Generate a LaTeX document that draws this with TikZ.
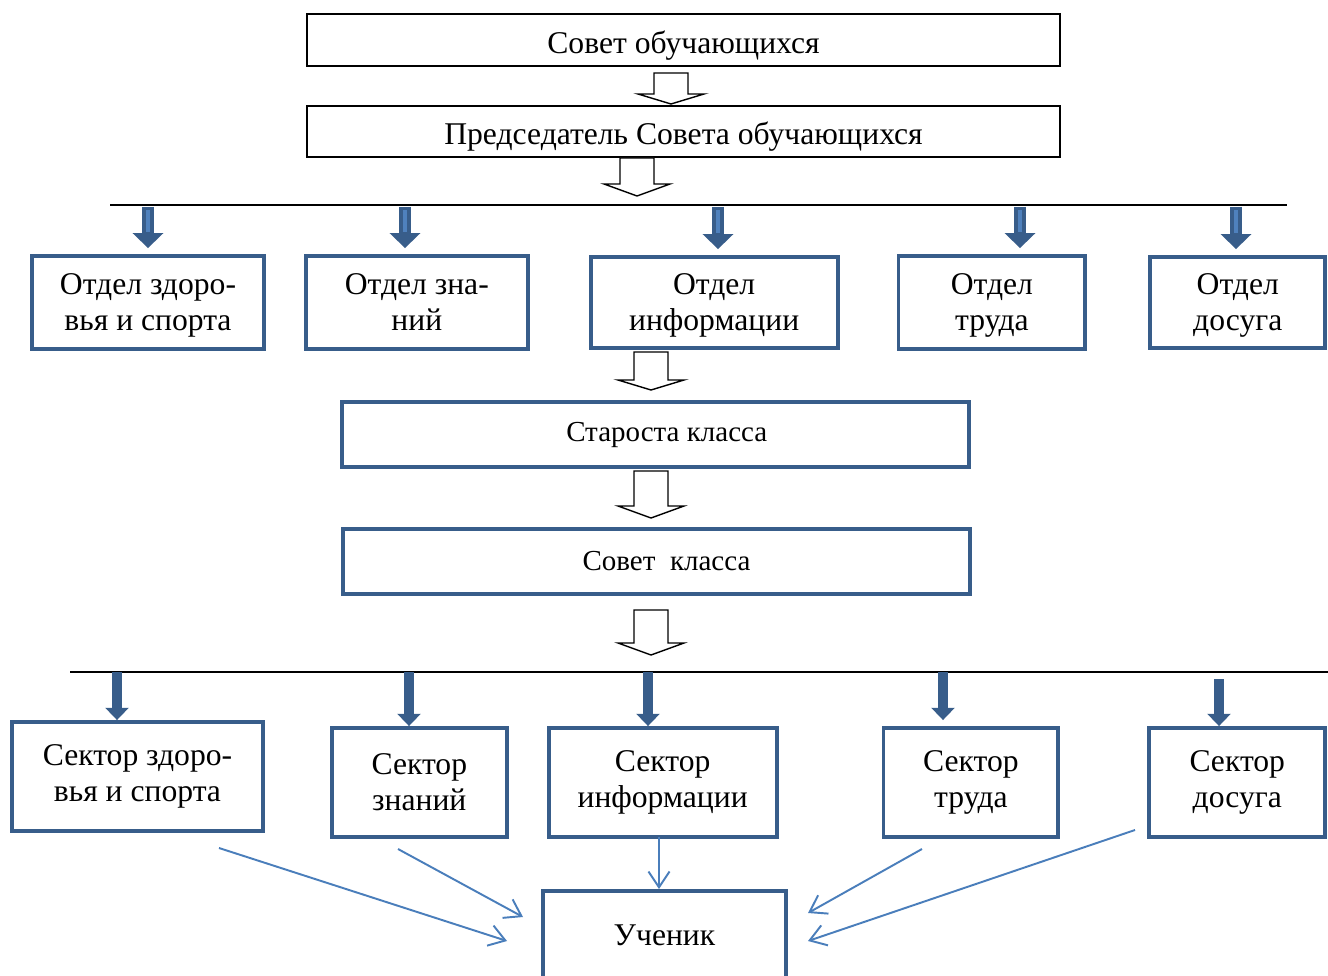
\documentclass[tikz,border=0pt]{standalone}
\usepackage{fontspec}
\setmainfont{Liberation Serif}
\usepackage{tikz}
\usetikzlibrary{arrows.meta,positioning}

\definecolor{boxblue}{RGB}{56,93,138}
\definecolor{fillblue}{RGB}{79,129,189}
\definecolor{lineblue}{RGB}{74,126,187}

\tikzset{
  topbox/.style={draw=black,line width=0.8pt,minimum width=15.06cm,inner sep=2pt,
    text height=19pt,font=\fontsize{18}{20.5}\selectfont},
  unitbox/.style={draw=boxblue,line width=2.2pt,align=center,inner sep=2pt,
    font=\fontsize{18}{20.5}\selectfont},
  deptbox/.style={unitbox,text depth=-11pt},
  classbox/.style={unitbox,minimum width=12.54cm,minimum height=1.3cm,
    font=\fontsize{16.5}{19}\selectfont},
  hollow/.style={draw=black,fill=white,line width=0.8pt,line join=miter},
  bus/.style={draw=black,line width=1pt},
  deptarrow/.style={boxblue,line width=6.5pt,shorten >=0.12cm,
    -{Triangle[width=17pt,length=8.5pt]}},
  deptstripe/.style={fillblue,line width=2.2pt,shorten >=0.45cm,shorten <=0.06cm},
  secarrow/.style={boxblue,line width=5.5pt,-{Triangle[width=13pt,length=7pt]}},
  pupilarrow/.style={lineblue,line width=1.1pt,-{Straight Barb[length=9pt,width=12pt]}}
}

% block arrow: centre x, top, start of head, tip
\newcommand{\hollowdown}[4]{%
  \draw[hollow] ({#1-17},#2) -- ({#1+17},#2) -- ({#1+17},#3) -- ({#1+33},#3)
    -- (#1,#4) -- ({#1-33},#3) -- ({#1-17},#3) -- cycle;}

\begin{document}
\begin{tikzpicture}[x=0.02cm,y=-0.02cm]
  \clip (0,0) rectangle (1328,976);

  % council
  \node[topbox,minimum height=1.04cm] (council) at (683.5,40) {Совет обучающихся};
  \node[topbox,minimum height=1.02cm] (chair)   at (683.5,131.5) {Председатель Совета обучающихся};
  \hollowdown{671}{73}{94}{104}
  \hollowdown{637}{158}{184}{196}

  % departments
  \coordinate (busL) at (110,205);
  \coordinate (busR) at (1287,205);
  \draw[bus] (busL) -- (busR);

  \node[deptbox,minimum width=4.64cm,minimum height=1.86cm] (health) at (148,302.5) {Отдел здоро-\\вья и спорта};
  \node[deptbox,minimum width=4.44cm,minimum height=1.86cm] (knowledge) [right=0.76cm of health]    {Отдел зна-\\ний};
  \node[deptbox,minimum width=4.94cm,minimum height=1.82cm] (info)      [right=1.18cm of knowledge] {Отдел\\информации};
  \node[deptbox,minimum width=3.74cm,minimum height=1.86cm] (labour)    [right=1.14cm of info]      {Отдел\\труда};
  \node[deptbox,minimum width=3.5cm,minimum height=1.82cm]  (leisure)   [right=1.22cm of labour]    {Отдел\\досуга};

  \coordinate (a1) at (148,207);
  \coordinate (a2) at (405,207);
  \coordinate (a3) at (718,207);
  \coordinate (a4) at (1020,207);
  \coordinate (a5) at (1236,207);
  \path[deptarrow]
  (a1) edge (a1 |- health.north)
  (a2) edge (a2 |- knowledge.north)
  (a3) edge (a3 |- info.north)
  (a4) edge (a4 |- labour.north)
  (a5) edge (a5 |- leisure.north);
  \path[deptstripe]
  (a1) edge (a1 |- health.north)
  (a2) edge (a2 |- knowledge.north)
  (a3) edge (a3 |- info.north)
  (a4) edge (a4 |- labour.north)
  (a5) edge (a5 |- leisure.north);

  % class
  \hollowdown{651}{352}{380}{390}
  \node[classbox] (head)  at (655.5,434.5) {\hspace{0.45cm}Староста класса};
  \hollowdown{651}{471}{506}{518}
  \node[classbox] (board) at (656.5,561.5) {\hspace{0.4cm}Совет\ \ класса};
  \hollowdown{651}{610}{643}{655}

  % sectors
  \coordinate (busL2) at (70,672);
  \coordinate (busR2) at (1328,672);
  \draw[bus] (busL2) -- (busR2);

  \node[unitbox,minimum width=5.02cm,minimum height=2.18cm] (shealth) at (137.5,776.5) {Сектор здоро-\\вья и спорта};
  \node[unitbox,minimum width=3.5cm,minimum height=2.18cm]  (sknow)   [right=1.3cm of shealth,yshift=-0.12cm] {Сектор\\знаний};
  \node[unitbox,minimum width=4.56cm,minimum height=2.18cm] (sinfo)   [right=0.76cm of sknow]  {Сектор\\информации};
  \node[unitbox,minimum width=3.5cm,minimum height=2.18cm]  (slabour) [right=2.06cm of sinfo]  {Сектор\\труда};
  \node[unitbox,minimum width=3.52cm,minimum height=2.18cm] (sleisure)[right=1.74cm of slabour]{Сектор\\досуга};

  \coordinate (b1) at (117,672);
  \coordinate (b2) at (409,672);
  \coordinate (b3) at (648,672);
  \coordinate (b4) at (943,672);
  \coordinate (b5) at (1219,679);
  \path[secarrow]
  (b1) edge (b1 |- shealth.north)
  (b2) edge (b2 |- sknow.north)
  (b3) edge (b3 |- sinfo.north)
  (b4) edge ([yshift=0.12cm]b4 |- slabour.north)
  (b5) edge (b5 |- sleisure.north);

  % pupil
  \node[unitbox,minimum width=4.86cm,minimum height=1.76cm] (pupil) at (664.5,935) {Ученик};

  \coordinate (f1) at (219,848);
  \coordinate (e1) at (507,941);
  \coordinate (f2) at (398,849);
  \coordinate (e2) at (523,917);
  \coordinate (f3) at (659,837);
  \coordinate (f4) at (922,849);
  \coordinate (e4) at (808,913);
  \coordinate (f5) at (1135,830);
  \coordinate (e5) at (808,941);
  \path[pupilarrow]
  (f1) edge (e1)
  (f2) edge (e2)
  (f3) edge (f3 |- pupil.north)
  (f4) edge (e4)
  (f5) edge (e5);
\end{tikzpicture}
\end{document}
